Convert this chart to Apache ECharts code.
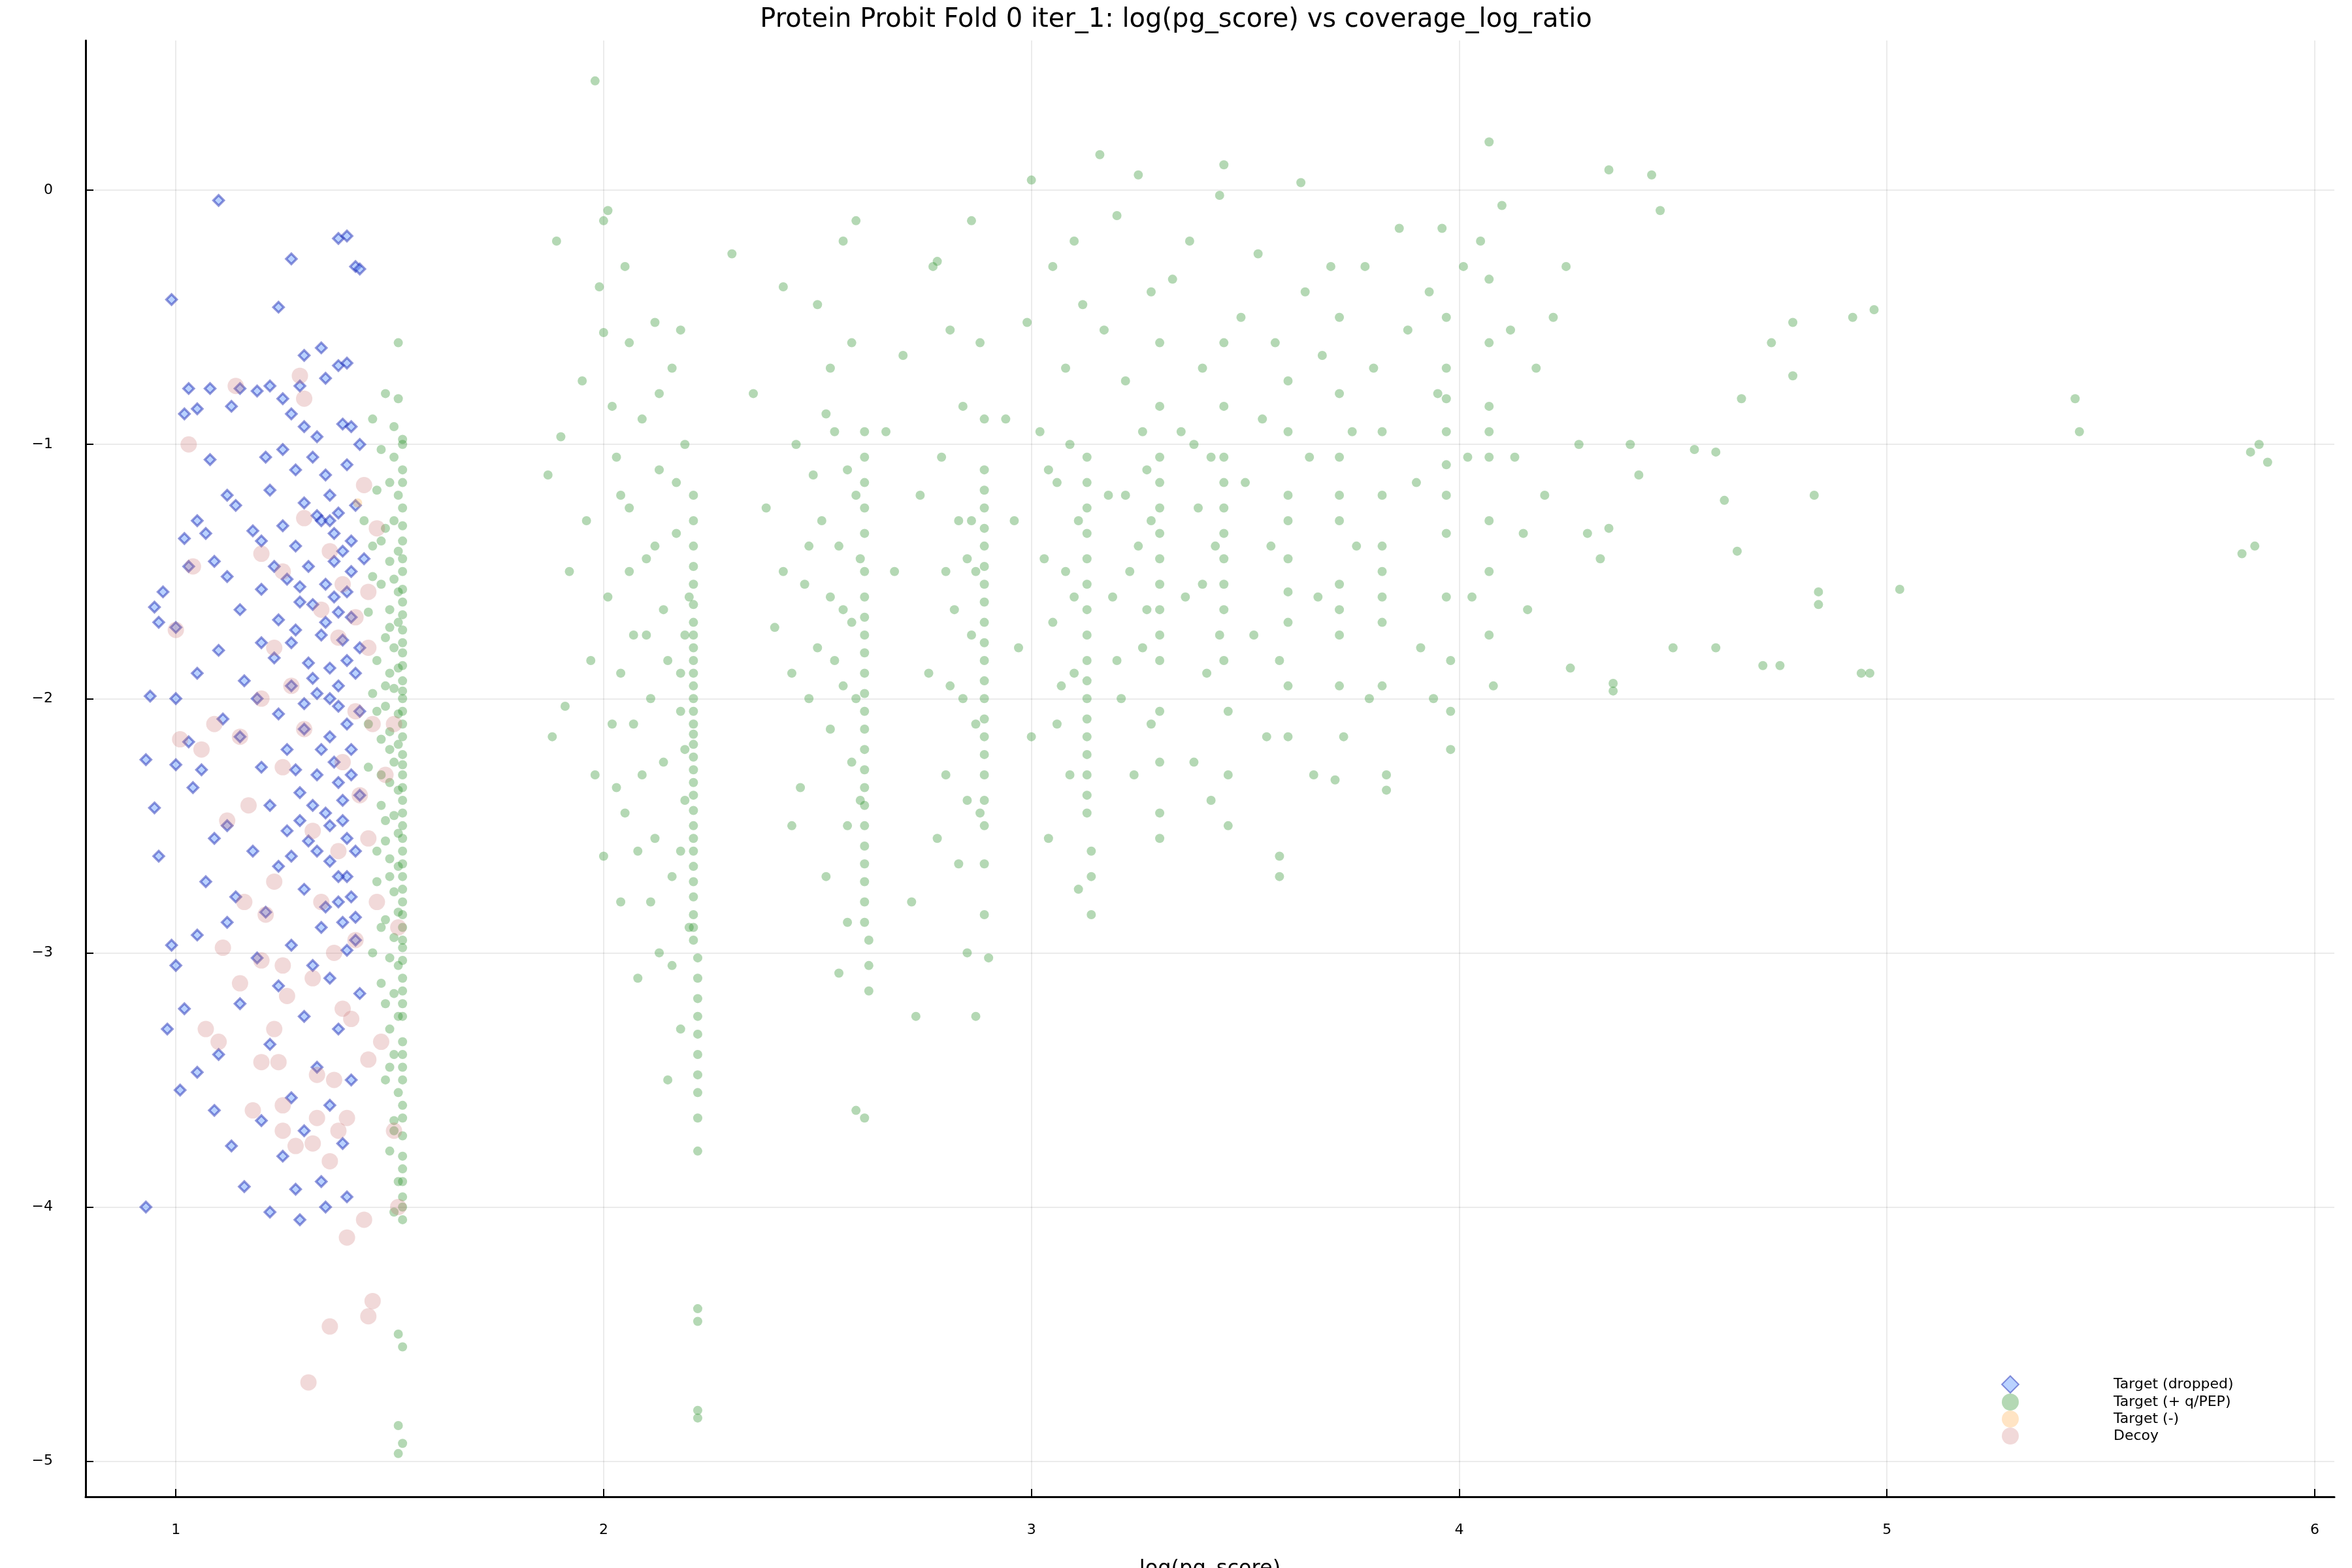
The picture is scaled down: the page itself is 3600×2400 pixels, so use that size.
<!DOCTYPE html>
<html><head><meta charset="utf-8">
<script src="https://cdn.jsdelivr.net/npm/echarts@6/dist/echarts.min.js"></script>
<style>html,body{margin:0;padding:0;background:#fff}#c{width:3600px;height:2400px}</style>
</head><body><div id="c"></div>
<script>
const titleText = "Protein Probit Fold 0 iter_1: log(pg_score) vs coverage_log_ratio";
const seriesNames = ["Target (dropped)", "Target (+ q/PEP)", "Target (-)", "Decoy"];
const xTicks = [1, 2, 3, 4, 5, 6];
const yTicks = [-5, -4, -3, -2, -1, 0];

const dropped = [
[1.10,-0.04],[0.99,-0.43],[1.38,-0.19],[1.40,-0.18],[1.42,-0.3],[1.43,-0.31],[1.27,-0.27],[1.24,-0.46],[1.30,-0.65],[1.34,-0.62],
[1.38,-0.69],[1.40,-0.68],[1.35,-0.74],[1.29,-0.77],[1.22,-0.77],[1.19,-0.79],[1.15,-0.78],[1.08,-0.78],[1.03,-0.78],[1.13,-0.85],
[1.05,-0.86],[1.02,-0.88],[1.25,-0.82],[1.27,-0.88],[1.30,-0.93],[1.33,-0.97],[1.39,-0.92],[1.41,-0.93],[1.43,-1.0],[1.32,-1.05],
[1.25,-1.02],[1.21,-1.05],[1.08,-1.06],[1.28,-1.1],[1.35,-1.12],[1.40,-1.08],[1.36,-1.2],[1.30,-1.23],[1.22,-1.18],[1.12,-1.2],
[1.14,-1.24],[1.33,-1.28],[1.34,-1.3],[1.36,-1.3],[1.38,-1.27],[1.42,-1.24],[1.25,-1.32],[1.05,-1.3],[1.07,-1.35],[1.02,-1.37],
[1.18,-1.34],[1.20,-1.38],[1.28,-1.4],[1.41,-1.38],[1.44,-1.45],[1.37,-1.46],[1.23,-1.48],[1.09,-1.46],[1.03,-1.48],[1.12,-1.52],
[1.26,-1.53],[1.29,-1.56],[1.35,-1.55],[1.40,-1.58],[1.20,-1.57],[0.97,-1.58],[0.95,-1.64],[1.32,-1.63],[1.38,-1.66],[1.41,-1.68],
[1.24,-1.69],[1.15,-1.65],[0.96,-1.7],[1.00,-1.72],[1.28,-1.73],[1.34,-1.75],[1.39,-1.77],[1.43,-1.8],[1.20,-1.78],[1.10,-1.81],
[1.23,-1.84],[1.31,-1.86],[1.36,-1.88],[1.42,-1.9],[1.05,-1.9],[1.16,-1.93],[1.27,-1.95],[1.33,-1.98],[0.94,-1.99],[1.00,-2.0],
[1.19,-2.0],[1.38,-2.03],[1.43,-2.05],[1.24,-2.06],[1.11,-2.08],[1.30,-2.12],[1.36,-2.15],[1.15,-2.15],[1.03,-2.17],[1.41,-2.2],
[1.26,-2.2],[0.93,-2.24],[1.00,-2.26],[1.06,-2.28],[1.20,-2.27],[1.33,-2.3],[1.38,-2.33],[1.04,-2.35],[1.29,-2.37],[1.43,-2.38],
[1.22,-2.42],[0.95,-2.43],[1.35,-2.45],[1.39,-2.48],[1.12,-2.5],[1.26,-2.52],[1.09,-2.55],[1.31,-2.56],[1.42,-2.6],[0.96,-2.62],
[1.18,-2.6],[1.36,-2.64],[1.24,-2.66],[1.40,-2.7],[1.07,-2.72],[1.14,-2.78],[1.30,-2.75],[1.38,-2.8],[1.21,-2.84],[1.42,-2.86],
[1.12,-2.88],[1.34,-2.9],[1.05,-2.93],[0.99,-2.97],[1.27,-2.97],[1.40,-2.99],[1.19,-3.02],[1.32,-3.05],[1.00,-3.05],[1.36,-3.1],
[1.24,-3.13],[1.43,-3.16],[1.02,-3.22],[1.15,-3.2],[1.30,-3.25],[0.98,-3.3],[1.38,-3.3],[1.22,-3.36],[1.10,-3.4],[1.33,-3.45],
[1.05,-3.47],[1.41,-3.5],[1.01,-3.54],[1.27,-3.57],[1.36,-3.6],[1.09,-3.62],[1.20,-3.66],[1.30,-3.7],[1.13,-3.76],[1.39,-3.75],
[1.25,-3.8],[1.16,-3.92],[1.28,-3.93],[1.34,-3.9],[1.40,-3.96],[0.93,-4.0],[1.22,-4.02],[1.29,-4.05],[1.35,-4.0],
[1.37,-1.35],[1.39,-1.42],[1.41,-1.5],[1.37,-1.6],[1.35,-1.7],[1.40,-1.85],[1.38,-1.95],[1.36,-2.0],[1.40,-2.1],[1.34,-2.2],
[1.37,-2.25],[1.41,-2.3],[1.39,-2.4],[1.36,-2.5],[1.40,-2.55],[1.33,-2.6],[1.38,-2.7],[1.41,-2.78],[1.35,-2.82],[1.39,-2.88],
[1.42,-2.95],[1.31,-1.48],[1.29,-1.62],[1.27,-1.78],[1.32,-1.92],[1.30,-2.02],[1.28,-2.28],[1.32,-2.42],[1.29,-2.48],[1.27,-2.62]
];

const qpep = [
[1.52,-0.6],[1.49,-0.8],[1.52,-0.82],[1.51,-0.93],[1.53,-0.98],[1.46,-0.9],[1.48,-1.02],[1.51,-1.05],[1.53,-1.1],[1.50,-1.15],
[1.52,-1.2],[1.47,-1.18],[1.53,-1.25],[1.51,-1.3],[1.49,-1.33],[1.53,-1.38],[1.52,-1.42],[1.46,-1.4],[1.50,-1.46],[1.53,-1.5],
[1.51,-1.53],[1.48,-1.55],[1.52,-1.58],[1.53,-1.62],[1.50,-1.65],[1.45,-1.66],[1.52,-1.7],[1.53,-1.73],[1.49,-1.76],[1.51,-1.8],
[1.53,-1.82],[1.47,-1.85],[1.52,-1.88],[1.50,-1.9],[1.53,-1.93],[1.51,-1.96],[1.46,-1.98],[1.53,-2.0],[1.49,-2.03],[1.52,-2.06],
[1.53,-2.1],[1.50,-2.13],[1.48,-2.16],[1.52,-2.18],[1.53,-2.22],[1.51,-2.25],[1.45,-2.27],[1.53,-2.3],[1.50,-2.33],[1.52,-2.36],
[1.53,-2.4],[1.48,-2.42],[1.51,-2.46],[1.53,-2.5],[1.52,-2.53],[1.49,-2.56],[1.53,-2.6],[1.50,-2.63],[1.52,-2.66],[1.53,-2.7],
[1.47,-2.72],[1.51,-2.76],[1.53,-2.8],[1.52,-2.84],[1.49,-2.87],[1.53,-2.9],[1.51,-2.94],[1.53,-2.98],[1.50,-3.02],[1.52,-3.05],
[1.53,-3.1],[1.48,-3.12],[1.51,-3.16],[1.53,-3.2],[1.52,-3.25],[1.50,-3.3],[1.53,-3.35],[1.51,-3.4],[1.53,-3.45],[1.49,-3.5],
[1.52,-3.55],[1.53,-3.6],[1.51,-3.66],[1.53,-3.72],[1.50,-3.78],[1.53,-3.85],[1.52,-3.9],[1.53,-3.96],[1.51,-4.02],[1.53,-4.05],
[1.52,-4.5],[1.53,-4.55],[1.52,-4.86],[1.53,-4.93],[1.52,-4.97],[1.44,-1.3],[1.46,-1.52],[1.45,-2.1],[1.47,-2.6],[1.46,-3.0],
[1.53,-1.0],[1.53,-1.15],[1.53,-1.32],[1.53,-1.45],[1.53,-1.57],[1.53,-1.67],[1.53,-1.78],[1.53,-1.87],[1.53,-1.97],[1.53,-2.05],
[1.53,-2.15],[1.53,-2.26],[1.53,-2.35],[1.53,-2.45],[1.53,-2.55],[1.53,-2.65],[1.53,-2.75],[1.53,-2.85],[1.53,-2.95],[1.53,-3.03],
[1.53,-3.15],[1.53,-3.25],[1.53,-3.4],[1.53,-3.5],[1.53,-3.65],[1.53,-3.8],[1.53,-3.9],[1.53,-4.0],[1.50,-1.72],[1.49,-1.95],
[1.50,-2.2],[1.49,-2.48],[1.50,-2.7],[1.48,-2.9],[1.49,-3.2],[1.50,-3.45],[1.51,-3.7],[1.48,-1.38],[1.47,-2.05],[1.48,-2.3],
[1.89,-0.2],[1.87,-1.12],[1.9,-0.97],[1.92,-1.5],[1.88,-2.15],[1.91,-2.03],[1.95,-0.75],[1.96,-1.3],[1.97,-1.85],[1.98,-2.3],
[1.98,0.43],[2.00,-0.12],[2.01,-0.08],[1.99,-0.38],[2.00,-0.56],[2.02,-0.85],[2.03,-1.05],[2.01,-1.6],[2.02,-2.1],[2.00,-2.62],
[2.04,-2.8],[2.05,-0.3],[2.06,-1.25],[2.07,-1.75],[2.05,-2.45],[2.08,-3.1],[2.09,-0.9],[2.10,-1.45],[2.11,-2.0],[2.09,-2.3],
[2.12,-0.52],[2.13,-1.1],[2.14,-1.65],[2.12,-2.55],[2.13,-3.0],[2.15,-3.5],[2.16,-0.7],[2.17,-1.35],[2.18,-1.9],[2.16,-2.7],
[2.18,-3.3],[2.19,-1.0],[2.20,-1.6],[2.19,-2.2],[2.20,-2.9],[2.21,-1.2],[2.21,-1.4],[2.21,-1.55],[2.21,-1.7],[2.21,-1.8],
[2.21,-1.9],[2.21,-2.0],[2.21,-2.1],[2.21,-2.18],[2.21,-2.28],[2.21,-2.38],[2.21,-2.5],[2.21,-2.6],[2.21,-2.72],[2.21,-2.85],
[2.21,-2.95],[2.22,-3.1],[2.22,-3.25],[2.22,-3.4],[2.22,-3.55],[2.22,-3.65],[2.22,-3.78],[2.22,-4.4],[2.22,-4.45],[2.22,-4.8],
[2.22,-4.83],[2.21,-1.3],[2.21,-1.48],[2.21,-1.63],[2.21,-1.75],[2.21,-1.85],[2.21,-1.95],[2.21,-2.05],[2.21,-2.14],[2.21,-2.23],
[2.21,-2.33],[2.21,-2.44],[2.21,-2.55],[2.21,-2.66],[2.21,-2.78],[2.21,-2.9],[2.22,-3.02],[2.22,-3.18],[2.22,-3.32],[2.22,-3.48],
[2.19,-1.75],[2.18,-2.05],[2.19,-2.4],[2.18,-2.6],[2.17,-1.15],[2.15,-1.85],[2.14,-2.25],[2.12,-1.4],[2.10,-1.75],[2.07,-2.1],
[2.06,-1.5],[2.04,-1.9],[2.03,-2.35],[2.08,-2.6],[2.11,-2.8],[2.16,-3.05],[2.04,-1.2],[2.06,-0.6],[2.13,-0.8],[2.18,-0.55],
[2.30,-0.25],[2.35,-0.8],[2.38,-1.25],[2.40,-1.72],[2.42,-0.38],[2.44,-2.5],[2.45,-1.0],[2.47,-1.55],[2.48,-2.0],
[2.50,-0.45],[2.51,-1.3],[2.52,-2.7],[2.53,-0.7],[2.54,-1.85],[2.55,-3.08],[2.56,-0.2],[2.57,-1.1],[2.58,-2.25],[2.59,-0.12],
[2.58,-0.6],[2.60,-1.45],[2.60,-2.4],[2.59,-3.62],[2.61,-3.65],[2.61,-0.95],[2.61,-1.15],[2.61,-1.35],[2.61,-1.6],[2.61,-1.75],
[2.61,-1.9],[2.61,-2.05],[2.61,-2.2],[2.61,-2.35],[2.61,-2.5],[2.61,-2.65],[2.61,-2.8],[2.62,-2.95],[2.62,-3.05],[2.62,-3.15],
[2.61,-1.05],[2.61,-1.25],[2.61,-1.5],[2.61,-1.68],[2.61,-1.82],[2.61,-1.98],[2.61,-2.12],[2.61,-2.28],[2.61,-2.42],[2.61,-2.58],
[2.61,-2.72],[2.61,-2.88],[2.59,-1.2],[2.58,-1.7],[2.59,-2.0],[2.57,-2.5],[2.55,-1.4],[2.54,-0.95],[2.56,-1.95],[2.53,-1.6],
[2.52,-0.88],[2.49,-1.12],[2.56,-1.65],[2.53,-2.12],[2.46,-2.35],[2.57,-2.88],[2.50,-1.8],[2.48,-1.4],[2.44,-1.9],[2.42,-1.5],
[2.66,-0.95],[2.68,-1.5],[2.70,-0.65],[2.72,-2.8],
[2.73,-3.25],[2.74,-1.2],[2.76,-1.9],[2.77,-0.3],[2.78,-0.28],[2.79,-1.05],[2.80,-2.3],[2.81,-0.55],[2.82,-1.65],[2.83,-2.65],
[2.84,-0.85],[2.84,-2.0],[2.85,-3.0],[2.86,-0.12],[2.86,-1.3],[2.87,-3.25],[2.88,-0.6],[2.88,-2.45],[2.89,-0.9],[2.89,-1.1],
[2.89,-1.25],[2.89,-1.4],[2.89,-1.55],[2.89,-1.7],[2.89,-1.85],[2.89,-2.0],[2.89,-2.15],[2.89,-2.3],[2.89,-2.5],[2.89,-2.65],
[2.89,-2.85],[2.90,-3.02],[2.85,-1.45],[2.81,-1.95],[2.78,-2.55],[2.89,-1.18],[2.89,-1.33],[2.89,-1.48],[2.89,-1.62],[2.89,-1.78],
[2.89,-1.93],[2.89,-2.08],[2.89,-2.22],[2.89,-2.4],[2.87,-1.5],[2.86,-1.75],[2.87,-2.1],[2.85,-2.4],[2.83,-1.3],[2.80,-1.5],
[2.94,-0.9],[2.96,-1.3],[2.97,-1.8],[2.99,-0.52],[3.00,0.04],
[3.00,-2.15],[3.02,-0.95],[3.03,-1.45],[3.04,-2.55],[3.05,-0.3],[3.06,-1.15],[3.07,-1.95],[3.08,-0.7],[3.09,-2.3],[3.10,-0.2],
[3.10,-1.6],[3.11,-2.75],[3.12,-0.45],[3.13,-1.05],[3.13,-1.25],[3.13,-1.45],[3.13,-1.65],[3.13,-1.85],[3.13,-2.0],[3.13,-2.15],
[3.13,-2.3],[3.13,-2.45],[3.14,-2.6],[3.14,-2.7],[3.14,-2.85],[3.13,-1.15],[3.13,-1.35],[3.13,-1.55],[3.13,-1.75],[3.13,-1.93],
[3.13,-2.08],[3.13,-2.22],[3.13,-2.38],[3.11,-1.3],[3.10,-1.9],[3.08,-1.5],[3.06,-2.1],[3.05,-1.7],[3.04,-1.1],[3.09,-1.0],
[3.16,0.14],[3.17,-0.55],[3.18,-1.2],[3.20,-0.1],[3.20,-1.85],
[3.22,-0.75],[3.23,-1.5],[3.24,-2.3],[3.25,0.06],[3.26,-0.95],[3.27,-1.65],[3.28,-0.4],[3.28,-2.1],[3.30,-0.6],[3.30,-0.85],
[3.30,-1.05],[3.30,-1.25],[3.30,-1.45],[3.30,-1.65],[3.30,-1.85],[3.30,-2.05],[3.30,-2.25],[3.30,-2.45],[3.30,-2.55],[3.30,-1.15],
[3.30,-1.35],[3.30,-1.55],[3.30,-1.75],[3.28,-1.3],[3.27,-1.1],[3.26,-1.8],[3.25,-1.4],[3.22,-1.2],[3.19,-1.6],[3.21,-2.0],
[3.33,-0.35],
[3.35,-0.95],[3.36,-1.6],[3.37,-0.2],[3.38,-2.25],[3.39,-1.25],[3.40,-0.7],[3.41,-1.9],[3.42,-2.4],[3.44,-0.02],[3.45,0.1],
[3.45,-0.6],[3.45,-0.85],[3.45,-1.05],[3.45,-1.25],[3.45,-1.45],[3.45,-1.65],[3.45,-1.85],[3.46,-2.05],[3.46,-2.3],[3.46,-2.5],
[3.45,-1.15],[3.45,-1.35],[3.45,-1.55],[3.44,-1.75],[3.43,-1.4],[3.42,-1.05],[3.40,-1.55],[3.38,-1.0],
[3.49,-0.5],[3.50,-1.15],[3.52,-1.75],[3.53,-0.25],[3.54,-0.9],[3.55,-2.15],[3.56,-1.4],[3.57,-0.6],[3.58,-2.62],[3.58,-2.7],
[3.60,-0.75],[3.60,-0.95],[3.60,-1.2],[3.60,-1.45],[3.60,-1.7],[3.60,-1.95],[3.60,-2.15],[3.60,-1.3],[3.60,-1.58],[3.58,-1.85],
[3.63,0.03],[3.64,-0.4],[3.65,-1.05],
[3.66,-2.3],[3.67,-1.6],[3.68,-0.65],[3.70,-0.3],[3.71,-2.32],[3.72,-0.5],[3.72,-0.8],[3.72,-1.05],[3.72,-1.3],[3.72,-1.55],
[3.72,-1.75],[3.72,-1.95],[3.73,-2.15],[3.72,-1.2],[3.72,-1.65],[3.75,-0.95],[3.76,-1.4],[3.78,-0.3],[3.79,-2.0],[3.80,-0.7],[3.82,-0.95],[3.82,-1.2],
[3.82,-1.4],[3.82,-1.6],[3.82,-1.95],[3.83,-2.3],[3.83,-2.36],[3.82,-1.5],[3.82,-1.7],[3.86,-0.15],[3.88,-0.55],[3.90,-1.15],[3.91,-1.8],[3.93,-0.4],
[3.94,-2.0],[3.95,-0.8],[3.96,-0.15],[3.97,-0.5],[3.97,-0.7],[3.97,-0.95],[3.97,-1.2],[3.97,-1.35],[3.97,-1.6],[3.98,-1.85],
[3.98,-2.05],[3.98,-2.2],[3.97,-1.08],[3.97,-0.82],[4.01,-0.3],[4.02,-1.05],[4.03,-1.6],[4.05,-0.2],[4.07,0.19],[4.07,-0.35],[4.07,-0.6],[4.07,-0.85],
[4.07,-1.05],[4.07,-1.3],[4.07,-1.5],[4.07,-1.75],[4.08,-1.95],[4.07,-0.95],[4.10,-0.06],[4.12,-0.55],[4.13,-1.05],[4.15,-1.35],[4.16,-1.65],
[4.18,-0.7],[4.20,-1.2],[4.22,-0.5],[4.25,-0.3],[4.26,-1.88],[4.28,-1.0],[4.30,-1.35],[4.33,-1.45],[4.35,0.08],[4.35,-1.33],
[4.36,-1.94],[4.36,-1.97],[4.40,-1.0],[4.42,-1.12],[4.45,0.06],[4.47,-0.08],[4.50,-1.8],[4.55,-1.02],[4.60,-1.8],[4.60,-1.03],
[4.62,-1.22],[4.65,-1.42],[4.66,-0.82],[4.71,-1.87],[4.73,-0.6],[4.75,-1.87],[4.78,-0.52],[4.78,-0.73],[4.83,-1.2],[4.84,-1.58],
[4.84,-1.63],[4.92,-0.5],[4.94,-1.9],[4.96,-1.9],[4.97,-0.47],[5.03,-1.57],[5.44,-0.82],[5.45,-0.95],[5.83,-1.43],[5.86,-1.4],
[5.85,-1.03],[5.87,-1.0],[5.89,-1.07]
];

const targetNeg = [[1.425,-1.23]];

const decoy = [
[1.14,-0.77],[1.29,-0.73],[1.30,-0.82],[1.03,-1.0],[1.44,-1.16],[1.30,-1.29],[1.36,-1.42],[1.47,-1.33],[1.04,-1.48],[1.20,-1.43],
[1.25,-1.5],[1.39,-1.55],[1.45,-1.58],[1.34,-1.65],[1.42,-1.68],[1.00,-1.73],[1.38,-1.76],[1.45,-1.8],[1.23,-1.8],[1.27,-1.95],
[1.20,-2.0],[1.42,-2.05],[1.46,-2.1],[1.30,-2.12],[1.01,-2.16],[1.09,-2.1],[1.15,-2.15],[1.06,-2.2],[1.39,-2.25],[1.25,-2.27],
[1.43,-2.38],[1.17,-2.42],[1.12,-2.48],[1.32,-2.52],[1.45,-2.55],[1.38,-2.6],[1.23,-2.72],[1.16,-2.8],[1.34,-2.8],[1.21,-2.85],
[1.42,-2.95],[1.11,-2.98],[1.37,-3.0],[1.20,-3.03],[1.25,-3.05],[1.32,-3.1],[1.15,-3.12],[1.26,-3.17],[1.39,-3.22],[1.41,-3.26],
[1.07,-3.3],[1.23,-3.3],[1.10,-3.35],[1.20,-3.43],[1.24,-3.43],[1.33,-3.48],[1.37,-3.5],[1.45,-3.42],[1.25,-3.6],[1.18,-3.62],
[1.33,-3.65],[1.40,-3.65],[1.25,-3.7],[1.38,-3.7],[1.28,-3.76],[1.32,-3.75],[1.36,-3.82],[1.40,-4.12],[1.44,-4.05],[1.46,-4.37],
[1.45,-4.43],[1.36,-4.47],[1.31,-4.69],[1.48,-3.35],[1.47,-2.8],[1.49,-2.3],[1.52,-2.9],[1.51,-3.7],[1.52,-4.0],[1.51,-2.1]
];

const chart = echarts.init(document.getElementById('c'));
const axisFont = {fontFamily: 'DejaVu Sans', fontSize: 22, color: '#000'};
chart.setOption({
  backgroundColor: '#fff',
  animation: false,
  title: {text: titleText, left: 'center', top: 6, textStyle: {fontFamily: 'DejaVu Sans', fontSize: 40, fontWeight: 'normal', color: '#000'}},
  grid: {left: 131, right: 27, top: 62, bottom: 109, containLabel: false, outerBoundsMode: 'none'},
  xAxis: {type: 'value', min: 0.789, max: 6.046, interval: 1,
    name: 'log(pg_score)', nameLocation: 'middle', nameGap: 95, nameTextStyle: {fontFamily: 'DejaVu Sans', fontSize: 32, color: '#000'},
    axisLine: {onZero: false, lineStyle: {color: '#000', width: 3}},
    axisTick: {show: true, inside: true, length: 12, lineStyle: {color: '#000', width: 2}, customValues: xTicks},
    axisLabel: Object.assign({margin: 40, customValues: xTicks, formatter: v => String(Math.round(v))}, axisFont),
    splitLine: {show: true, lineStyle: {color: 'rgba(0,0,0,0.08)', width: 2}}},
  yAxis: {type: 'value', min: -5.14, max: 0.589, interval: 1,
    axisLine: {show: true, onZero: false, lineStyle: {color: '#000', width: 3}},
    axisTick: {show: true, inside: true, length: 12, lineStyle: {color: '#000', width: 2}, customValues: yTicks},
    axisLabel: Object.assign({margin: 50, customValues: yTicks, formatter: v => String(Math.round(v)).replace('-', '\u2212')}, axisFont),
    splitLine: {show: true, lineStyle: {color: 'rgba(0,0,0,0.08)', width: 2}}},
  legend: {orient: 'vertical', left: 3058, top: 2100, itemGap: 0, itemWidth: 26, itemHeight: 26,
    data: seriesNames, textStyle: {fontFamily: 'DejaVu Sans', fontSize: 22, color: '#000', padding: [0, 0, 0, 140]}},
  series: [
    {name: seriesNames[0], type: 'scatter', data: dropped, symbol: 'diamond', symbolSize: 16,
      itemStyle: {color: 'rgba(110,160,255,0.6)', borderColor: 'rgba(10,20,170,0.55)', borderWidth: 3.5}},
    {name: seriesNames[1], type: 'scatter', data: qpep, symbol: 'circle', symbolSize: 14,
      itemStyle: {color: 'rgba(34,139,34,0.42)'}},
    {name: seriesNames[2], type: 'scatter', data: targetNeg, symbol: 'circle', symbolSize: 14,
      itemStyle: {color: 'rgba(255,170,70,0.4)'}},
    {name: seriesNames[3], type: 'scatter', data: decoy, symbol: 'circle', symbolSize: 25,
      itemStyle: {color: 'rgba(200,110,110,0.32)'}}
  ]
});
</script></body></html>
